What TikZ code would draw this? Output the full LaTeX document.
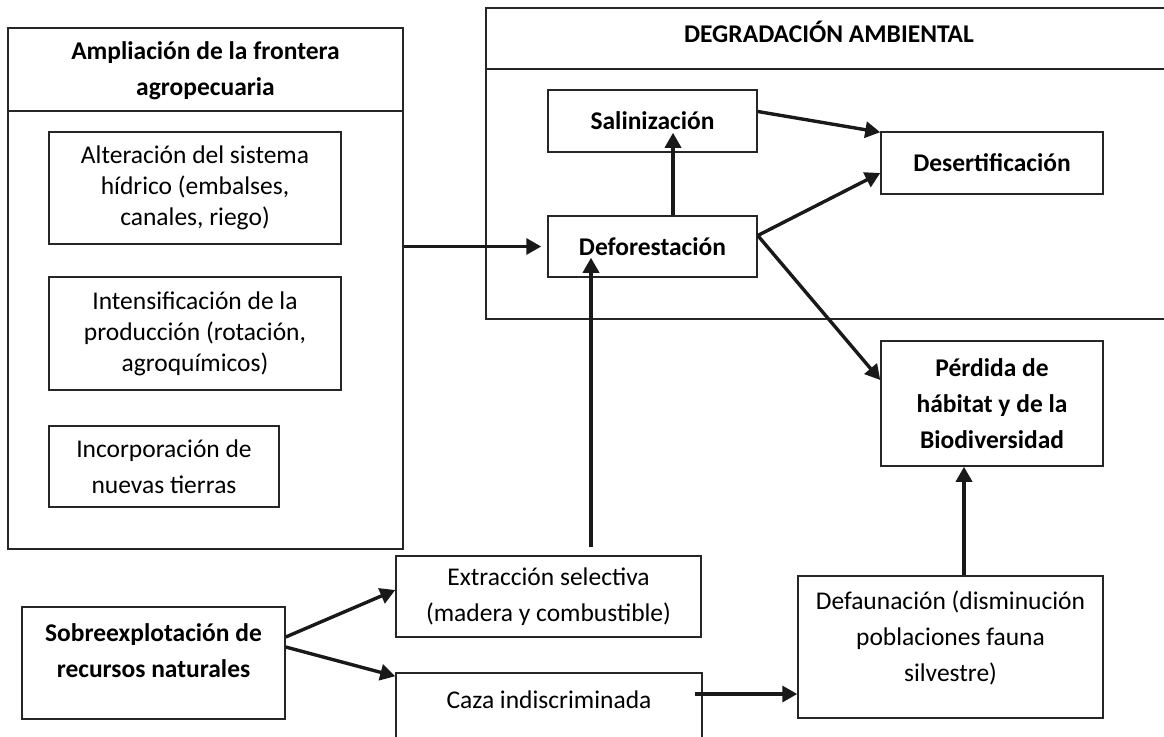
\documentclass[tikz,border=0pt]{standalone}
\usepackage{fontspec}
\setmainfont{Carlito}
\usetikzlibrary{arrows.meta}
\tikzset{
  caja/.style={draw=black!85,line width=1.5pt,inner sep=0pt,align=center},
  marco/.style={draw=black!85,line width=1.5pt},
  flecha/.style={draw=black!90,line width=3.4pt,-{Triangle[length=15pt,width=16pt]}},
  texto/.style={align=center,font=\fontsize{25.5}{31}\selectfont},
  textoa/.style={align=center,font=\fontsize{25.5}{36}\selectfont},
  textob/.style={align=center,font=\fontsize{25.5}{36}\selectfont\bfseries},
}
\begin{document}
\begin{tikzpicture}[x=1pt,y=-1pt]
\useasboundingbox (0,0) rectangle (1164,736);
% bloque izquierdo
\node[caja,minimum width=395pt,minimum height=521pt] (ampl) at (205.5,288.5) {};
\draw[marco] (ampl.west |- 0,111) -- (ampl.east |- 0,111);
\node[textob] (amplt) at (205.5,71) {Ampliación de la frontera\\agropecuaria};
\node[caja,texto,minimum width=292pt,minimum height=112pt] (alter) at (195,188)
  {Alteración del sistema\\hídrico (embalses,\\canales, riego)};
\node[caja,texto,minimum width=292pt,minimum height=113pt] (intens) at (195,333.5)
  {Intensificación de la\\producción (rotación,\\agroquímicos)};
\node[caja,textoa,minimum width=230pt,minimum height=81pt] (incorp) at (164,466.5)
  {Incorporación de\\nuevas tierras};
% degradacion ambiental
\draw[marco] (1164,8) -- (486,8) -- (486,319) -- (1164,319);
\draw[marco] (486,69) -- (1164,69);
\node[font=\fontsize{25.5}{31}\selectfont\bfseries] (degt) at (829,32) {DEGRADACIÓN AMBIENTAL};
\node[caja,textob,minimum width=209pt,minimum height=62pt] (salin) at (652.5,121) {Salinización};
\node[caja,textob,minimum width=222pt,minimum height=62pt] (desert) at (992,163) {Desertificación};
\node[caja,textob,minimum width=209pt,minimum height=61pt] (defor) at (652.5,246.5) {Deforestación};
\node[caja,textob,minimum width=222pt,minimum height=125pt] (perdida) at (992,403.5)
  {Pérdida de\\hábitat y de la\\Biodiversidad};
% parte baja
\node[caja,minimum width=305pt,minimum height=142pt] (defaun) at (950.5,647) {};
\node[textoa] (defaunt) at (950.5,638) {Defaunación (disminución\\poblaciones fauna\\silvestre)};
\node[caja,textoa,minimum width=305pt,minimum height=81pt] (extrac) at (548.5,596.5)
  {Extracción selectiva\\(madera y combustible)};
\node[caja,minimum width=306pt,minimum height=66pt] (caza) at (549,706) {};
\node[textoa] (cazat) at (549,700) {Caza indiscriminada};
\node[caja,minimum width=263pt,minimum height=112pt] (sobre) at (153.5,663) {};
\node[textob] (sobret) at (153.5,651) {Sobreexplotación de\\recursos naturales};
% flechas
\draw[flecha] (ampl.east |- defor.west) -- ([xshift=-6pt]defor.west);
\draw[flecha] ([xshift=20.5pt]defor.north) -- ([xshift=20.5pt,yshift=20pt]salin.south);
\draw[flecha] ([yshift=9.5pt]salin.east) -- ([yshift=-1pt]desert.north west);
\draw[flecha] ([yshift=11pt]defor.east) -- ([yshift=-10pt]desert.west);
\draw[flecha] ([yshift=11pt]defor.east) -- ([yshift=23.5pt]perdida.west);
\draw[flecha] ([xshift=42.5pt,yshift=8pt]extrac.north) -- ([xshift=-61.5pt,yshift=20pt]defor.south);
\draw[flecha] ([xshift=13.5pt]defaun.north) -- ([xshift=13.5pt]defaun.north |- perdida.south);
\draw[flecha] ([xshift=-8pt,yshift=12pt]caza.east) -- ([yshift=12pt]caza.east -| defaun.west);
\draw[flecha] ([yshift=26pt]sobre.east) -- ([yshift=6.5pt]extrac.west);
\draw[flecha] ([yshift=16pt]sobre.east) -- ([yshift=-4pt]caza.north west);
\end{tikzpicture}
\end{document}
